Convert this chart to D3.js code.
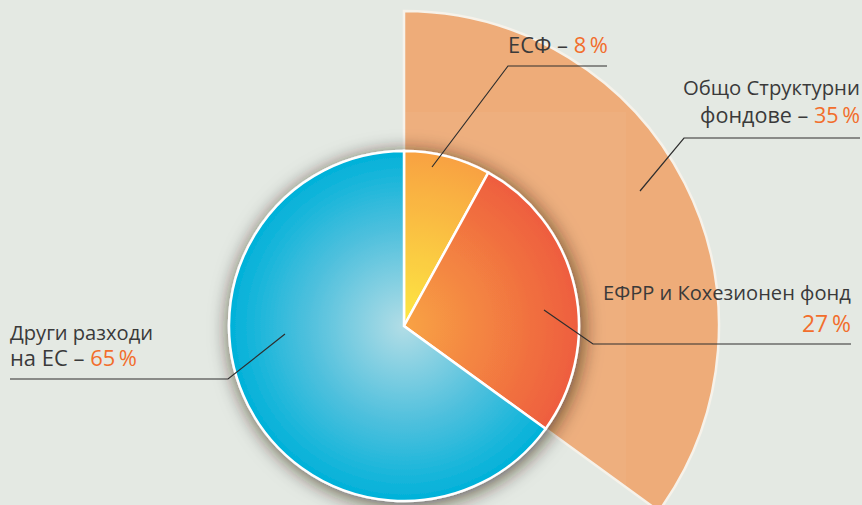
<!DOCTYPE html>
<html>
<head>
<meta charset="utf-8">
<script src="https://cdn.jsdelivr.net/npm/d3@7"></script>
<style>
  html, body { margin: 0; padding: 0; background: #e4e9e3; overflow: hidden; }
  text { font-family: "Open Sans", "Noto Sans", sans-serif; font-stretch: 88%; font-weight: 380; white-space: pre; }
</style>
</head>
<body>
<script>
// data
const categories = ["ЕСФ", "ЕФРР и Кохезионен фонд", "Други разходи на ЕС"];
const shares = [8, 27, 65];
const fundsName = "Общо Структурни фондове";
const fundsShare = 35;

// label lines: [plain text, orange percent]
const labelLines = [
  [["ЕСФ – ", "8\u2009%"]],
  [["ЕФРР и Кохезионен фонд", ""], ["", "27\u2009%"]],
  [["Други разходи", ""], ["на ЕС – ", "65\u2009%"]],
  [["Общо Структурни", ""], ["фондове – ", "35\u2009%"]]
];

const width = 862, height = 505;
const cx = 404, cy = 326, r = 175, R = 315;

const svg = d3.select("body")
  .append("svg")
  .attr("width", width)
  .attr("height", height);

const defs = svg.append("defs");

// gradients for the slices, centred on the pie
const grads = [
  { id: "g0", stops: [["0%", "#fde83a"], ["100%", "#f89e3b"]] },
  { id: "g1", stops: [["0%", "#f8a03d"], ["100%", "#ee5737"]] },
  { id: "g2", stops: [["0%", "#b2dde6"], ["55%", "#4fc0dd"], ["100%", "#00b1d9"]] }
];
grads.forEach(g => {
  const lg = defs.append("radialGradient")
    .attr("id", g.id)
    .attr("gradientUnits", "userSpaceOnUse")
    .attr("cx", 0).attr("cy", 0).attr("r", r);
  g.stops.forEach(s => lg.append("stop").attr("offset", s[0]).attr("stop-color", s[1]));
});

const shadow = defs.append("filter")
  .attr("id", "shadow")
  .attr("x", "-30%").attr("y", "-30%")
  .attr("width", "160%").attr("height", "160%");
shadow.append("feDropShadow")
  .attr("dx", 2).attr("dy", 3)
  .attr("stdDeviation", 10)
  .attr("flood-color", "#2a1c10")
  .attr("flood-opacity", 0.75);

const g = svg.append("g").attr("transform", `translate(${cx},${cy})`);

// outer wedge for all structural funds
const wedgeArc = d3.arc()
  .innerRadius(0)
  .outerRadius(R)
  .startAngle(0)
  .endAngle(2 * Math.PI * fundsShare / 100);

defs.append("clipPath").attr("id", "wedgeClip")
  .append("path")
  .attr("transform", `translate(${cx},${cy})`)
  .attr("d", wedgeArc());

g.append("path")
  .attr("d", wedgeArc())
  .attr("fill", "#eeac79")
  .attr("stroke", "#f6f2ea")
  .attr("stroke-width", 2.5);

// faint lighter panel inside the wedge
svg.append("rect")
  .attr("clip-path", "url(#wedgeClip)")
  .attr("x", cx).attr("y", 112)
  .attr("width", 222).attr("height", 400)
  .attr("fill", "#fff")
  .attr("opacity", 0.04);

// inner pie
const pie = d3.pie().sort(null).value(d => d);
const arc = d3.arc().innerRadius(0).outerRadius(r);

g.append("g")
  .attr("filter", "url(#shadow)")
  .selectAll("path")
  .data(pie(shares))
  .join("path")
  .attr("d", arc)
  .attr("fill", (d, i) => `url(#g${i})`)
  .attr("stroke", "#fff")
  .attr("stroke-width", 2.5);

// leader lines (start on slice, elbow, end)
const leaders = [
  [[432, 167], [508, 66], [607, 66]],
  [[544, 310], [593, 344], [851, 344]],
  [[285, 334], [228, 379], [10, 379]],
  [[640, 191], [684, 138], [860, 138]]
];

svg.append("g")
  .selectAll("path")
  .data(leaders)
  .join("path")
  .attr("d", d => d3.line()(d))
  .attr("fill", "none")
  .attr("stroke", "#2e2e2e")
  .attr("stroke-width", 1.2);

// label text: [anchor x, baseline y, width, align] for each line
const labelPos = [
  [[608, 53, 100, "end"]],
  [[851, 300, 248, "end"], [851, 332, 49, "end"]],
  [[10, 340, 143, "start"], [10, 366, 127, "start"]],
  [[860, 95, 177, "end"], [860, 123, 160, "end"]]
];

// font size fitted to the widths seen in the picture (no stretching)
const labels = svg.append("g");
labelLines.forEach((lines, i) => {
  lines.forEach((ln, j) => {
    const p = labelPos[i][j];
    const parts = ln.map((s, k) => ({ s, fill: k ? "#f26e2c" : "#3a3a3a" })).filter(d => d.s);
    const nodes = parts.map(d => labels.append("text")
      .attr("y", p[1])
      .style("font-size", "25px")
      .attr("fill", d.fill)
      .text(d.s));
    const w = nodes.map(n => n.node().getComputedTextLength());
    const fs = Math.min(27, 25 * p[2] / d3.sum(w));
    const total = d3.sum(w) * fs / 25;
    let x = p[3] === "end" ? p[0] - total : p[0];
    nodes.forEach((n, m) => {
      n.attr("x", x).style("font-size", fs + "px");
      x += w[m] * fs / 25;
    });
  });
});
</script>
</body>
</html>
